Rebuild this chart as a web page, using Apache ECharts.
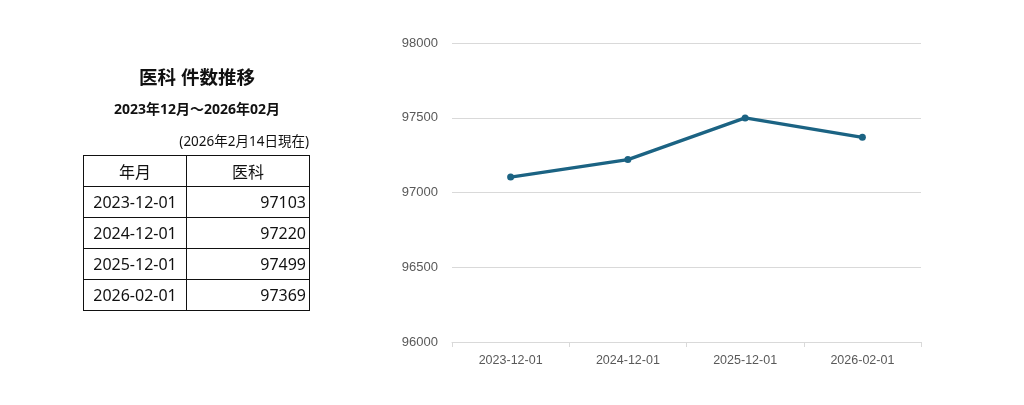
<!DOCTYPE html>
<html><head><meta charset="utf-8">
<script src="https://cdn.jsdelivr.net/npm/echarts@6/dist/echarts.min.js"></script>
<style>
html,body{margin:0;padding:0;background:#fff;width:1024px;height:405px;overflow:hidden;}
#side{position:absolute;left:0;top:0;width:400px;height:405px;font-family:"Noto Sans","Noto Sans CJK JP",sans-serif;color:#111;}
#t1{position:absolute;left:83px;width:228px;top:63px;text-align:center;font-weight:bold;font-size:18.5px;}
#t2{position:absolute;left:83px;width:228px;top:98px;text-align:center;font-weight:bold;font-size:14px;}
#t3{position:absolute;left:83px;width:226px;top:130px;text-align:right;font-size:13.5px;}
table{position:absolute;left:83px;top:155px;border-collapse:collapse;font-size:16px;}
td{border:1.3px solid #111;height:30px;padding:0 3px;}
td.c1{width:96px;text-align:center;}
td.c2{width:116px;text-align:right;}
td.h{text-align:center;}
#chart{position:absolute;left:0;top:0;width:1024px;height:405px;}
</style></head>
<body>
<div id="chart"></div>
<div id="side">
<div id="t1"></div><div id="t2"></div><div id="t3"></div>
<table id="tbl"></table>
</div>
<script>
const title = "医科 件数推移";
const subtitle = "2023年12月～2026年02月";
const asOf = "(2026年2月14日現在)";
const headers = ["年月", "医科"];
const categories = ["2023-12-01", "2024-12-01", "2025-12-01", "2026-02-01"];
const values = [97103, 97220, 97499, 97369];

document.getElementById('t1').textContent = title;
document.getElementById('t2').textContent = subtitle;
document.getElementById('t3').textContent = asOf;
let html = '<tr><td class="c1 h">' + headers[0] + '</td><td class="c2 h">' + headers[1] + '</td></tr>';
categories.forEach((c, i) => { html += '<tr><td class="c1">' + c + '</td><td class="c2">' + values[i] + '</td></tr>'; });
document.getElementById('tbl').innerHTML = html;

const chart = echarts.init(document.getElementById('chart'));
chart.setOption({
  animation: false,
  grid: {left: 452, right: 103, top: 43, bottom: 63, containLabel: false},
  xAxis: {
    type: 'category', data: categories, boundaryGap: true,
    axisLine: {lineStyle: {color: '#d9d9d9'}},
    axisTick: {show: true, lineStyle: {color: '#d9d9d9'}},
    axisLabel: {color: '#595959', fontSize: 12.5, fontFamily: 'Liberation Sans, Arial, sans-serif', margin: 12}
  },
  yAxis: {
    type: 'value', min: 96000, max: 98000, interval: 500,
    axisLine: {show: false}, axisTick: {show: false},
    splitLine: {lineStyle: {color: '#d9d9d9'}},
    axisLabel: {color: '#595959', fontSize: 13, fontFamily: 'Liberation Sans, Arial, sans-serif', margin: 14,
      formatter: v => String(v)}
  },
  series: [{
    type: 'line', data: values,
    lineStyle: {color: '#1b6383', width: 3.3},
    itemStyle: {color: '#1b6383'},
    symbol: 'circle', symbolSize: 7
  }]
});
</script>
</body></html>
